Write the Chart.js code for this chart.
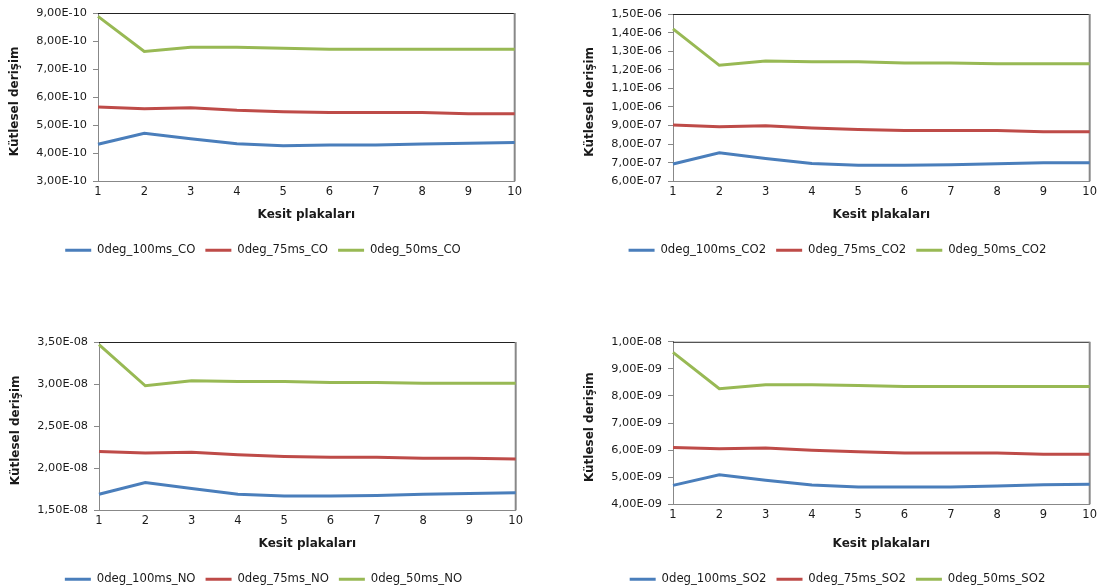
<!DOCTYPE html>
<html lang="tr">
<head>
    <meta charset="UTF-8">
    <title>Kütlesel derişim - Kesit plakaları</title>
    <script src="https://cdn.jsdelivr.net/npm/chart.js"></script>
    <style>
        html, body {
            margin: 0;
            padding: 0;
            background: #ffffff;
            overflow: hidden;
        }
        .page {
            position: relative;
            width: 1101px;
            height: 587px;
            overflow: hidden;
        }
        .box {
            position: absolute;
            width: 526px;
            height: 266px;
        }
    </style>
</head>
<body>
<div class="page">
    <div class="box" style="left:0px; top:0px;"><canvas id="coChart"></canvas></div>
    <div class="box" style="left:575px; top:0px;"><canvas id="co2Chart"></canvas></div>
    <div class="box" style="left:1px; top:329px;"><canvas id="noChart"></canvas></div>
    <div class="box" style="left:575px; top:329px;"><canvas id="so2Chart"></canvas></div>
</div>

<script>
    // x ekseni: kesit plakalari
    const plates = ['1', '2', '3', '4', '5', '6', '7', '8', '9', '10'];

    // CO
    const co100 = [4.32e-10, 4.71e-10, 4.52e-10, 4.34e-10, 4.27e-10, 4.29e-10, 4.29e-10, 4.33e-10, 4.36e-10, 4.38e-10];
    const co75  = [5.65e-10, 5.59e-10, 5.62e-10, 5.53e-10, 5.48e-10, 5.45e-10, 5.45e-10, 5.45e-10, 5.41e-10, 5.41e-10];
    const co50  = [8.88e-10, 7.63e-10, 7.78e-10, 7.78e-10, 7.74e-10, 7.71e-10, 7.71e-10, 7.71e-10, 7.71e-10, 7.71e-10];

    // CO2
    const co2_100 = [6.93e-7, 7.53e-7, 7.23e-7, 6.96e-7, 6.86e-7, 6.86e-7, 6.89e-7, 6.94e-7, 7.00e-7, 7.00e-7];
    const co2_75  = [9.03e-7, 8.94e-7, 8.99e-7, 8.87e-7, 8.78e-7, 8.73e-7, 8.73e-7, 8.73e-7, 8.67e-7, 8.67e-7];
    const co2_50  = [1.420e-6, 1.224e-6, 1.247e-6, 1.243e-6, 1.243e-6, 1.236e-6, 1.236e-6, 1.233e-6, 1.233e-6, 1.233e-6];

    // NO
    const no100 = [1.69e-8, 1.83e-8, 1.76e-8, 1.69e-8, 1.67e-8, 1.67e-8, 1.675e-8, 1.69e-8, 1.70e-8, 1.71e-8];
    const no75  = [2.20e-8, 2.18e-8, 2.19e-8, 2.16e-8, 2.14e-8, 2.13e-8, 2.13e-8, 2.12e-8, 2.12e-8, 2.11e-8];
    const no50  = [3.47e-8, 2.98e-8, 3.04e-8, 3.03e-8, 3.03e-8, 3.02e-8, 3.02e-8, 3.01e-8, 3.01e-8, 3.01e-8];

    // SO2
    const so2_100 = [4.70e-9, 5.09e-9, 4.89e-9, 4.71e-9, 4.64e-9, 4.64e-9, 4.64e-9, 4.68e-9, 4.72e-9, 4.74e-9];
    const so2_75  = [6.10e-9, 6.05e-9, 6.08e-9, 6.00e-9, 5.94e-9, 5.89e-9, 5.89e-9, 5.89e-9, 5.85e-9, 5.85e-9];
    const so2_50  = [9.61e-9, 8.27e-9, 8.41e-9, 8.41e-9, 8.39e-9, 8.35e-9, 8.35e-9, 8.35e-9, 8.35e-9, 8.35e-9];

    // y ekseni araliklari: [min, max, adim]
    const coAxis  = [3e-10, 9e-10, 1e-10];
    const co2Axis = [6e-7, 1.5e-6, 1e-7];
    const noAxis  = [1.5e-8, 3.5e-8, 5e-9];
    const so2Axis = [4e-9, 1e-8, 1e-9];

    const seriesColors = ['#4a7ebb', '#be4b48', '#98b954'];
    const textColor = '#1a1a1a';
    const axisColor = '#888888';

    Chart.defaults.font.family = "'DejaVu Sans', sans-serif";
    Chart.defaults.color = textColor;

    // 9,00E-10 bicimi
    function formatTick(value) {
        const parts = Number(value).toExponential(2).split('e');
        const mant = parts[0].replace('.', ',');
        const exp = parseInt(parts[1], 10);
        const sign = exp < 0 ? '-' : '+';
        const digits = String(Math.abs(exp)).padStart(2, '0');
        return mant + 'E' + sign + digits;
    }

    // ust ve sag cerceve
    const framePlugin = {
        id: 'frame',
        beforeDatasetsDraw(chart) {
            const { ctx, chartArea: a } = chart;
            ctx.save();
            ctx.strokeStyle = '#222222';
            ctx.lineWidth = 1;
            ctx.beginPath();
            ctx.moveTo(a.left, a.top + 0.5);
            ctx.lineTo(a.right, a.top + 0.5);
            ctx.stroke();
            ctx.strokeStyle = axisColor;
            ctx.lineWidth = 2;
            ctx.beginPath();
            ctx.moveTo(a.right, a.top);
            ctx.lineTo(a.right, a.bottom);
            ctx.stroke();
            ctx.restore();
        }
    };

    // lejant biraz saga
    const legendShift = {
        id: 'legendShift',
        afterLayout(chart) {
            if (chart.legend) {
                chart.legend.left += 5;
                chart.legend.right += 5;
            }
        }
    };

    function drawChart(canvasId, gas, values, axis, padTop, padRight, xHeight) {
        const names = ['0deg_100ms_' + gas, '0deg_75ms_' + gas, '0deg_50ms_' + gas];
        const ctx = document.getElementById(canvasId).getContext('2d');
        new Chart(ctx, {
            type: 'line',
            data: {
                labels: plates,
                datasets: values.map((v, i) => ({
                    label: names[i],
                    data: v,
                    borderColor: seriesColors[i],
                    backgroundColor: seriesColors[i],
                    borderWidth: 3,
                    pointRadius: 0,
                    tension: 0,
                    fill: false
                }))
            },
            options: {
                responsive: true,
                maintainAspectRatio: false,
                animation: false,
                layout: {
                    padding: { top: padTop, right: padRight, left: 0, bottom: 0 }
                },
                plugins: {
                    legend: {
                        position: 'bottom',
                        labels: {
                            usePointStyle: true,
                            pointStyle: 'line',
                            pointStyleWidth: 26,
                            padding: 10,
                            color: textColor,
                            font: { size: 11.7 }
                        }
                    },
                    tooltip: { enabled: false }
                },
                scales: {
                    x: {
                        offset: false,
                        grid: { display: false, drawTicks: false },
                        border: { display: true, color: axisColor, width: 1 },
                        ticks: { padding: 4, color: textColor, font: { size: 11.5 }, maxRotation: 0, autoSkip: false },
                        title: {
                            display: true,
                            text: 'Kesit plakaları',
                            color: textColor,
                            font: { size: 12, weight: 'bold' },
                            padding: { top: 4, bottom: 12 }
                        },
                        afterFit(scale) { scale.height = xHeight; }
                    },
                    y: {
                        min: axis[0],
                        max: axis[1],
                        grid: { drawOnChartArea: false, drawTicks: true, tickLength: 5, color: axisColor },
                        border: { display: true, color: axisColor, width: 1 },
                        ticks: {
                            stepSize: axis[2],
                            padding: 6,
                            autoSkip: false,
                            color: textColor,
                            font: { size: 11.3 },
                            callback: (value) => formatTick(value)
                        },
                        title: {
                            display: true,
                            text: 'Kütlesel derişim  ',
                            color: textColor,
                            font: { size: 12, weight: 'bold' },
                            padding: { top: 8, bottom: 4 }
                        },
                        afterFit(scale) { scale.width = 98; }
                    }
                }
            },
            plugins: [framePlugin, legendShift]
        });
    }

    drawChart('coChart', 'CO', [co100, co75, co50], coAxis, 13, 10, 53);
    drawChart('co2Chart', 'CO2', [co2_100, co2_75, co2_50], co2Axis, 14, 11, 53);
    drawChart('noChart', 'NO', [no100, no75, no50], noAxis, 13, 11, 53);
    drawChart('so2Chart', 'SO2', [so2_100, so2_75, so2_50], so2Axis, 8, 11, 59);
</script>
</body>
</html>
